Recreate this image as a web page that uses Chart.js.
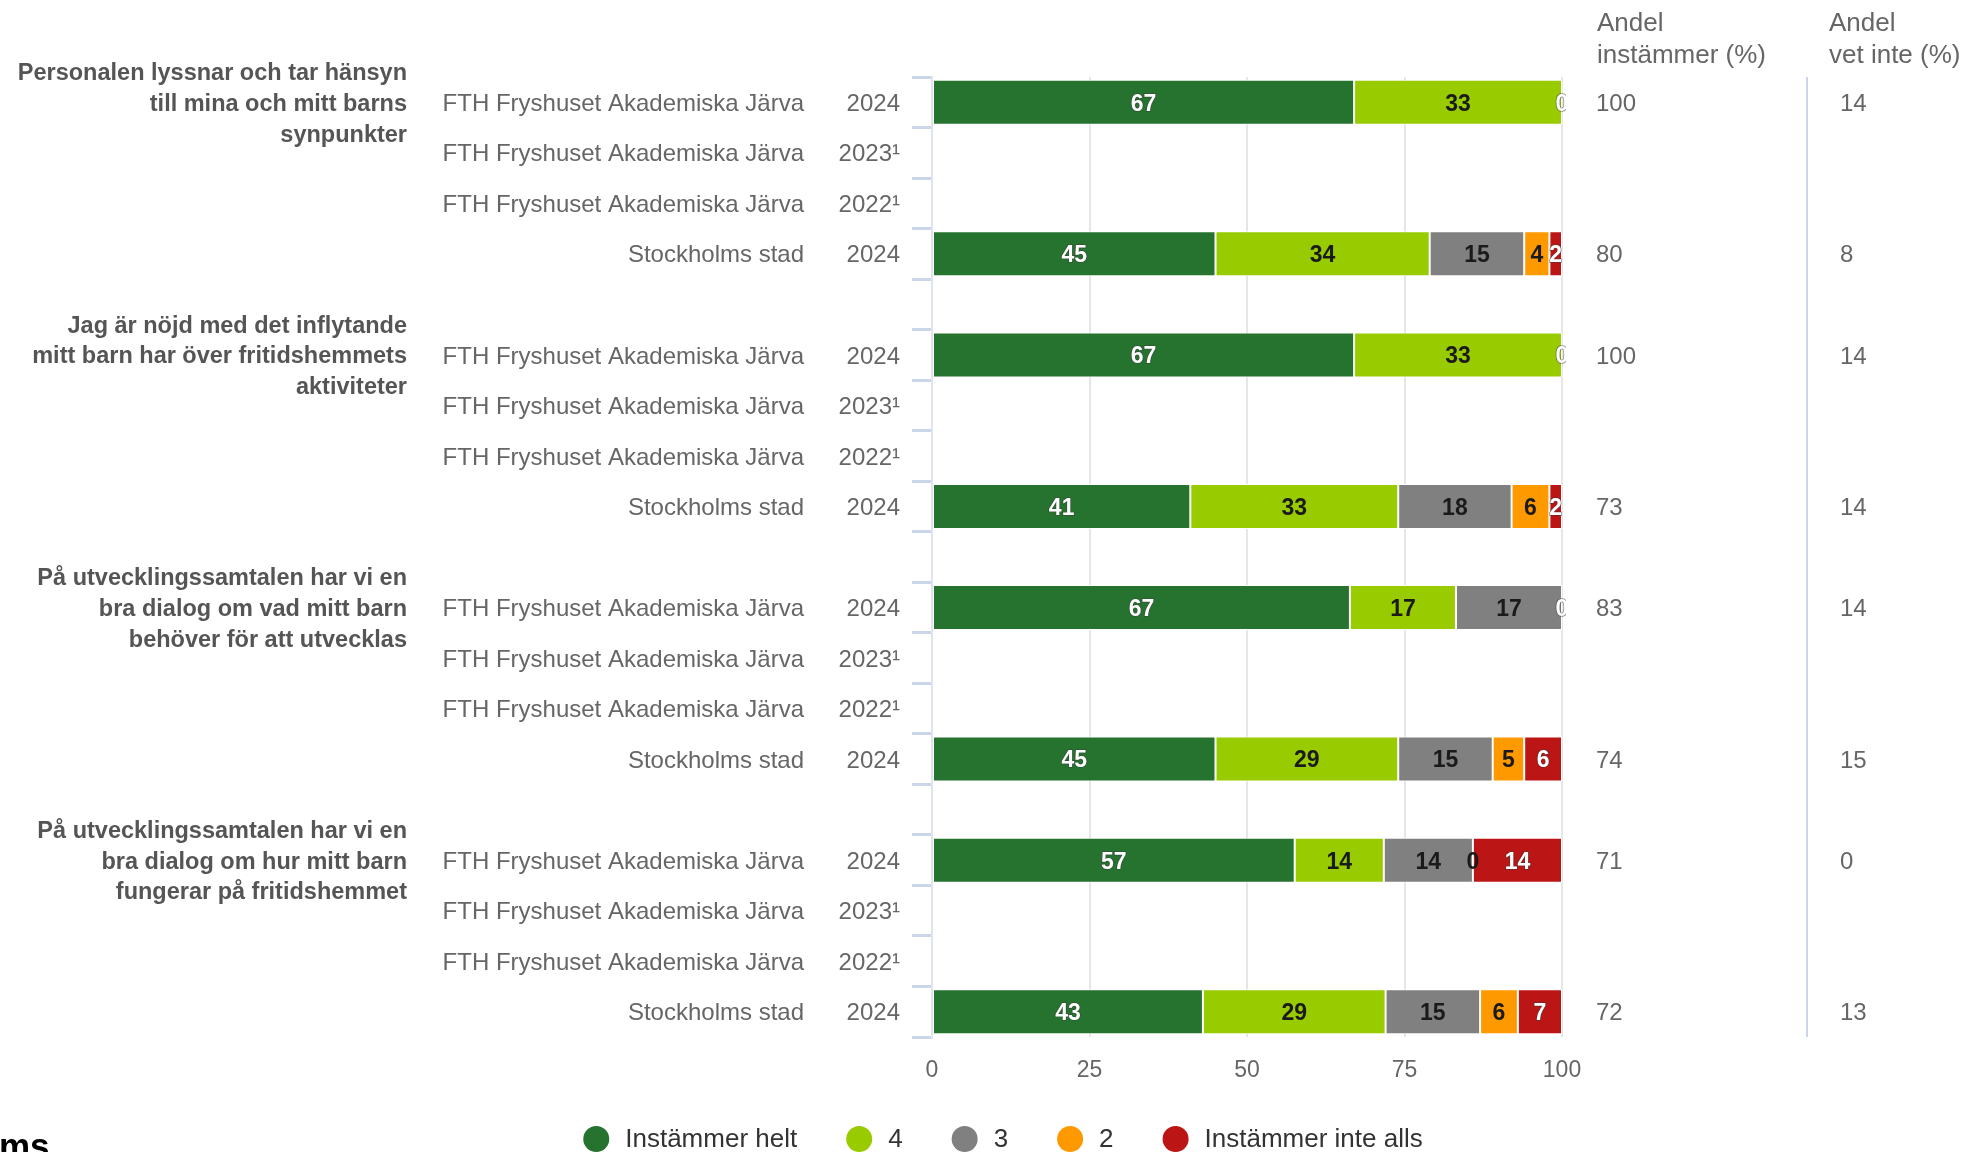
<!DOCTYPE html>
<html lang="sv">
<head>
<meta charset="utf-8">
<script src="https://cdn.jsdelivr.net/npm/chart.js@4.4.1/dist/chart.umd.min.js"></script>
<style>
  html, body { margin: 0; padding: 0; background: #fff; overflow: hidden; }
  canvas { display: block; }
</style>
</head>
<body>
<canvas id="chart" width="1970" height="1152"></canvas>
<script>
// questions (group titles, three lines each)
const questions = [
  ['Personalen lyssnar och tar hänsyn', 'till mina och mitt barns', 'synpunkter'],
  ['Jag är nöjd med det inflytande', 'mitt barn har över fritidshemmets', 'aktiviteter'],
  ['På utvecklingssamtalen har vi en', 'bra dialog om vad mitt barn', 'behöver för att utvecklas'],
  ['På utvecklingssamtalen har vi en', 'bra dialog om hur mitt barn', 'fungerar på fritidshemmet']
];
// rows inside each question
const rowUnits = ['FTH Fryshuset Akademiska Järva', 'FTH Fryshuset Akademiska Järva', 'FTH Fryshuset Akademiska Järva', 'Stockholms stad'];
const rowYears = ['2024', '2023¹', '2022¹', '2024'];

// series, 4 rows per question
const instammerHelt     = [67, null, null, 45,  67, null, null, 41,  67, null, null, 45,  57, null, null, 43];
const fyra              = [33, null, null, 34,  33, null, null, 33,  17, null, null, 29,  14, null, null, 29];
const tre               = [0,  null, null, 15,  0,  null, null, 18,  17, null, null, 15,  14, null, null, 15];
const tva               = [0,  null, null, 4,   0,  null, null, 6,   0,  null, null, 5,   0,  null, null, 6];
const instammerInteAlls = [0,  null, null, 2,   0,  null, null, 2,   0,  null, null, 6,   14, null, null, 7];
const andelInstammer    = [100, null, null, 80, 100, null, null, 73, 83, null, null, 74, 71, null, null, 72];
const andelVetInte      = [14, null, null, 8,   14, null, null, 14,  14, null, null, 15,  0,  null, null, 13];

const seriesNames  = ['Instämmer helt', '4', '3', '2', 'Instämmer inte alls'];
const seriesColors = ['#26732f', '#99cc00', '#808080', '#ff9900', '#bb1515'];
const labelColors  = ['#ffffff', '#1a1a1a', '#1a1a1a', '#1a1a1a', '#ffffff'];
const xTicks = [0, 25, 50, 75, 100];

const FONT = "'Liberation Sans', Arial, sans-serif";

// insert an empty slot between questions
function withGaps(arr) {
  const out = [];
  arr.forEach((v, i) => {
    out.push(v);
    if (i % 4 === 3 && i < arr.length - 1) out.push(null);
  });
  return out;
}

const raw = [instammerHelt, fyra, tre, tva, instammerInteAlls].map(withGaps);
const units = withGaps(questions.flatMap(() => rowUnits));
const years = withGaps(questions.flatMap(() => rowYears));
const instCol = withGaps(andelInstammer);
const vetCol = withGaps(andelVetInte);
const labels = units.map((u, i) => u ? u + ' ' + years[i] : '');

// percent stacking, like the original
const totals = labels.map((_, i) => raw.reduce((s, arr) => s + (arr[i] || 0), 0));
const pct = raw.map(arr => arr.map((v, i) => v === null ? null : v / totals[i] * 100));

const overlay = {
  id: 'overlay',
  afterDatasetsDraw(chart) {
    const ctx = chart.ctx;
    const area = chart.chartArea;
    ctx.save();
    ctx.beginPath();
    ctx.rect(area.left, area.top - 5, area.right - area.left + 4, area.bottom - area.top + 10);
    ctx.clip();
    ctx.font = 'bold 23px ' + FONT;
    ctx.textAlign = 'center';
    ctx.textBaseline = 'middle';
    chart.data.datasets.forEach((ds, di) => {
      const meta = chart.getDatasetMeta(di);
      meta.data.forEach((bar, i) => {
        const v = raw[di][i];
        if (v === null || v === undefined) return;
        if (v === 0 && di < raw.length - 1 && raw[di + 1][i] === 0) return;
        const cx = (bar.x + bar.base) / 2;
        if (labelColors[di] === '#ffffff') {
          ctx.lineWidth = 1.5;
          ctx.strokeStyle = 'rgba(60,60,60,0.6)';
          ctx.strokeText(String(v), cx, bar.y + 2);
        }
        ctx.fillStyle = labelColors[di];
        ctx.fillText(String(v), cx, bar.y + 2);
      });
    });
    ctx.restore();
  },
  afterDraw(chart) {
    const ctx = chart.ctx;
    const y = chart.scales.y;
    const area = chart.chartArea;
    ctx.save();
    ctx.textBaseline = 'middle';

    // row labels
    ctx.font = '24px ' + FONT;
    ctx.fillStyle = '#666666';
    units.forEach((u, i) => {
      if (!u) return;
      const py = y.getPixelForValue(i) + 2;
      ctx.textAlign = 'right';
      ctx.fillText(u, 804, py);
      ctx.fillText(years[i], 900, py);
      ctx.textAlign = 'left';
      if (instCol[i] !== null) ctx.fillText(String(instCol[i]), 1596, py);
      if (vetCol[i] !== null) ctx.fillText(String(vetCol[i]), 1840, py);
    });

    // question titles
    ctx.font = 'bold 23.5px ' + FONT;
    ctx.fillStyle = '#555555';
    ctx.textAlign = 'right';
    questions.forEach((lines, g) => {
      const py = y.getPixelForValue(g * 5) + 2;
      lines.forEach((line, k) => ctx.fillText(line, 407, py + (k - 1) * 30.8));
    });

    // column headers
    ctx.font = '26px ' + FONT;
    ctx.fillStyle = '#666666';
    ctx.textAlign = 'left';
    ctx.fillText('Andel', 1597, 23.5);
    ctx.fillText('instämmer (%)', 1597, 56);
    ctx.fillText('Andel', 1829, 23.5);
    ctx.fillText('vet inte (%)', 1829, 56);

    // separator between the two columns
    ctx.strokeStyle = '#ccd6eb';
    ctx.lineWidth = 2;
    ctx.beginPath();
    ctx.moveTo(1807, area.top);
    ctx.lineTo(1807, area.bottom);
    ctx.stroke();

    // legend
    ctx.font = '26px ' + FONT;
    const widths = seriesNames.map(n => ctx.measureText(n).width);
    const gap = 49;
    const total = widths.reduce((s, w) => s + 42 + w, 0) + gap * (widths.length - 1);
    let lx = 1003 - total / 2;
    const ly = 1139;
    seriesNames.forEach((n, i) => {
      ctx.fillStyle = seriesColors[i];
      ctx.beginPath();
      ctx.arc(lx + 13, ly, 13, 0, Math.PI * 2);
      ctx.fill();
      ctx.fillStyle = '#333333';
      ctx.fillText(n, lx + 42, ly + 1);
      lx += 42 + widths[i] + gap;
    });

    // cut-off logo text in the corner
    ctx.font = 'bold 35px ' + FONT;
    ctx.fillStyle = '#000000';
    ctx.textBaseline = 'alphabetic';
    ctx.fillText('ms', -1, 1158);
    ctx.restore();
  }
};

new Chart(document.getElementById('chart'), {
  type: 'bar',
  data: {
    labels: labels,
    datasets: pct.map((data, i) => ({
      label: seriesNames[i],
      data: data,
      backgroundColor: seriesColors[i],
      borderColor: '#ffffff',
      borderWidth: 1,
      borderSkipped: false,
      barPercentage: 0.89,
      categoryPercentage: 1
    }))
  },
  options: {
    indexAxis: 'y',
    responsive: false,
    animation: false,
    layout: { padding: { left: 912, right: 408, top: 77, bottom: 55 } },
    plugins: {
      legend: { display: false },
      tooltip: { enabled: false }
    },
    scales: {
      x: {
        stacked: true,
        min: 0,
        max: 100,
        afterBuildTicks: s => { s.ticks = xTicks.map(v => ({ value: v })); },
        afterFit: s => { s.height = 60; },
        grid: {
          color: c => c.tick && c.tick.value === 0 ? 'rgba(0,0,0,0)' : '#e6e6e6',
          lineWidth: 2,
          drawTicks: false
        },
        border: { display: false },
        ticks: {
          padding: 20,
          color: '#666666',
          font: { family: FONT, size: 23 }
        }
      },
      y: {
        stacked: true,
        afterFit: s => { s.width = 20; },
        grid: {
          offset: true,
          drawOnChartArea: false,
          drawTicks: true,
          tickLength: 20,
          color: '#ccd6eb',
          lineWidth: 3
        },
        border: { display: true, color: '#dfe4ee', width: 2 },
        ticks: { display: false }
      }
    }
  },
  plugins: [overlay]
});
</script>
</body>
</html>
